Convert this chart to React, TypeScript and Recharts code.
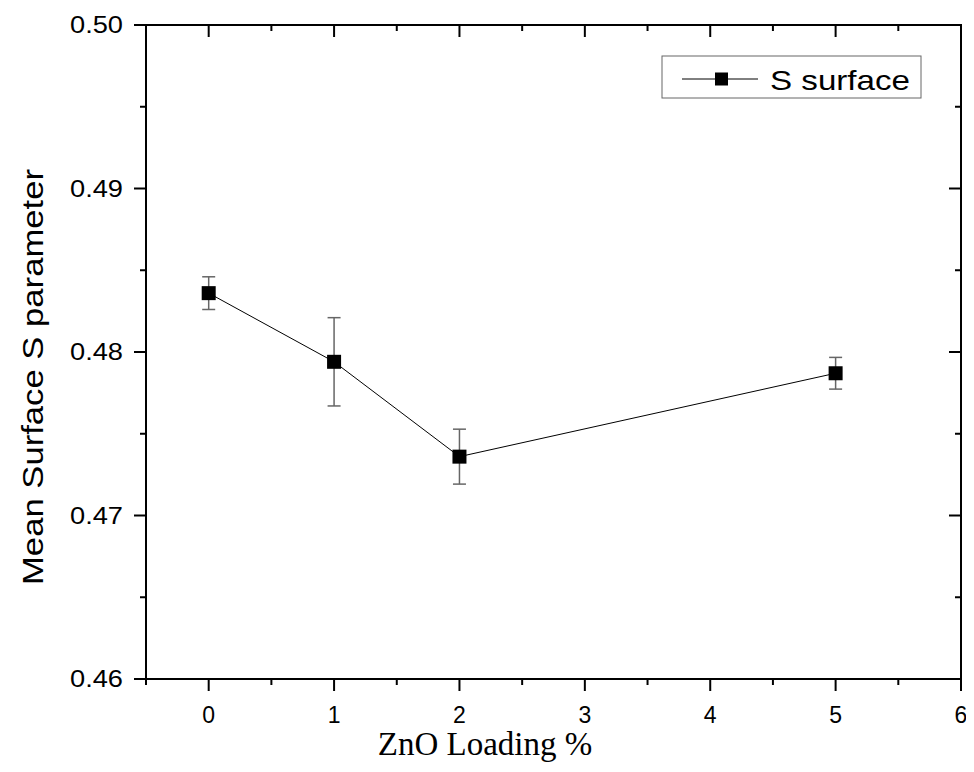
import React from 'react';
import { LineChart, Line, XAxis, YAxis, ErrorBar, Legend } from 'recharts';

const loading = [0, 1, 2, 5];
const sSurface = [0.4836, 0.4794, 0.4736, 0.4787];
const sError = [0.00100, 0.00270, 0.00168, 0.00097];
const xTicks = [-0.5, 0, 0.5, 1, 1.5, 2, 2.5, 3, 3.5, 4, 4.5, 5, 5.5, 6];
const yTicks = [0.46, 0.465, 0.47, 0.475, 0.48, 0.485, 0.49, 0.495, 0.5];

const data = loading.map((x, i) => ({ x, s: sSurface[i], err: sError[i] }));

const SANS = '"Liberation Sans", Arial, sans-serif';
const SERIF = '"Liberation Serif", "Times New Roman", serif';
const MAJOR = 12;
const MINOR = 6;
const CHART_W = 958;
const CHART_H = 756;
const M_TOP = 17;
const M_RIGHT = 4;
const Y_AXIS_W = 138;
const X_AXIS_H = 85;
const PLOT_W = CHART_W - M_RIGHT - 1 - Y_AXIS_W;
const PLOT_H = CHART_H - M_TOP - X_AXIS_H;

const isIntX = (v: number) => Math.abs(v - Math.round(v)) < 1e-9;
const isMajorY = (v: number) => Math.abs(v * 100 - Math.round(v * 100)) < 1e-6;

const BottomTick = (props: any) => {
  const { x, y, payload } = props;
  const v = payload.value;
  const major = isIntX(v);
  const len = major ? MAJOR : MINOR;
  const top = y - PLOT_H;
  return (
    <g>
      <line x1={x} y1={y} x2={x} y2={y + len} stroke="#000" strokeWidth={2} />
      <line x1={x} y1={top} x2={x} y2={top + len} stroke="#000" strokeWidth={2} />
      {major && v >= 0 ? (
        <text x={x} y={y + 44} textAnchor="middle" fontFamily={SANS} fontSize={23} fill="#000">
          {String(v)}
        </text>
      ) : null}
    </g>
  );
};

const LeftTick = (props: any) => {
  const { x, y, payload } = props;
  const v = payload.value;
  const major = isMajorY(v);
  return (
    <g>
      <line x1={x} y1={y} x2={x - (major ? MAJOR : MINOR)} y2={y} stroke="#000" strokeWidth={2} />
      {major ? (
        <text
          x={x - 23}
          y={y + 8}
          textAnchor="end"
          fontFamily={SANS}
          fontSize={23}
          fill="#000"
          textLength={53}
          lengthAdjust="spacingAndGlyphs"
        >
          {v.toFixed(2)}
        </text>
      ) : null}
    </g>
  );
};

const RightTick = (props: any) => {
  const { x, y, payload } = props;
  const v = payload.value;
  const major = isMajorY(v);
  return (
    <g>
      <line x1={x} y1={y} x2={x - (major ? MAJOR : MINOR)} y2={y} stroke="#000" strokeWidth={2} />
      {Math.abs(v - 0.5) < 1e-9 ? (
        <line x1={x + 1} y1={y} x2={x - PLOT_W - 1} y2={y} stroke="#000" strokeWidth={2} />
      ) : null}
    </g>
  );
};

const Square = (props: any) => {
  const { cx, cy } = props;
  if (cx == null || cy == null) return null;
  return <rect x={cx - 7} y={cy - 7} width={14} height={14} fill="#000" />;
};

const LegendBox = () => (
  <div style={{ position: 'absolute', left: 0, top: 0, width: 262, height: 45 }}>
    <svg width={262} height={45} style={{ display: 'block' }}>
      <rect x={1} y={1} width={259} height={42} fill="#fff" stroke="#666" strokeWidth={1} />
      <line x1={21} y1={24} x2={97} y2={24} stroke="#000" strokeWidth={1} />
      <rect x={54} y={17.5} width={13} height={13} fill="#000" />
      <text x={109} y={35} fontFamily={SANS} fontSize={28} fill="#000" textLength={140} lengthAdjust="spacingAndGlyphs">
        S surface
      </text>
    </svg>
  </div>
);

const YTitle = () => (
  <text
    x={35}
    y={369}
    transform="rotate(-90 35 369)"
    textAnchor="middle"
    fontFamily={SANS}
    fontSize={29}
    fill="#000"
    textLength={416}
    lengthAdjust="spacingAndGlyphs"
  >
    Mean Surface S parameter
  </text>
);

const XTitle = () => (
  <text x={477} y={747} textAnchor="middle" fontFamily={SERIF} fontSize={33} fill="#000">
    ZnO Loading %
  </text>
);

export default function App() {
  return (
    <div style={{ width: CHART_W, height: CHART_H, background: '#fff' }}>
      <LineChart width={CHART_W} height={CHART_H} data={data} margin={{ top: M_TOP, right: M_RIGHT, left: 0, bottom: 0 }}>
        <XAxis
          xAxisId="b"
          type="number"
          dataKey="x"
          orientation="bottom"
          domain={[-0.5, 6]}
          ticks={xTicks}
          interval={0}
          allowDataOverflow
          height={X_AXIS_H}
          tickSize={0}
          tickMargin={0}
          tickLine={false}
          axisLine={{ stroke: '#000', strokeWidth: 2 }}
          tick={<BottomTick />}
          label={<XTitle />}
        />
        <YAxis
          yAxisId="l"
          type="number"
          orientation="left"
          domain={[0.46, 0.5]}
          ticks={yTicks}
          interval={0}
          allowDataOverflow
          width={Y_AXIS_W}
          tickSize={0}
          tickMargin={0}
          tickLine={false}
          axisLine={{ stroke: '#000', strokeWidth: 2 }}
          tick={<LeftTick />}
          label={<YTitle />}
        />
        <YAxis
          yAxisId="r"
          type="number"
          orientation="right"
          domain={[0.46, 0.5]}
          ticks={yTicks}
          interval={0}
          allowDataOverflow
          width={1}
          tickSize={0}
          tickMargin={0}
          tickLine={false}
          axisLine={{ stroke: '#000', strokeWidth: 2 }}
          tick={<RightTick />}
        />
        <Legend
          content={() => <LegendBox />}
          wrapperStyle={{ position: 'absolute', left: 653, top: 47, width: 0, height: 0, overflow: 'visible' }}
        />
        <Line
          xAxisId="b"
          yAxisId="r"
          dataKey="s"
          type="linear"
          stroke="none"
          dot={false}
          activeDot={false}
          legendType="none"
          isAnimationActive={false}
        />
        <Line
          xAxisId="b"
          yAxisId="l"
          dataKey="s"
          type="linear"
          stroke="#000"
          strokeWidth={1}
          dot={<Square />}
          activeDot={false}
          isAnimationActive={false}
        >
          <ErrorBar dataKey="err" direction="y" width={6.5} stroke="#666" strokeWidth={1.5} isAnimationActive={false} />
        </Line>
      </LineChart>
    </div>
  );
}
